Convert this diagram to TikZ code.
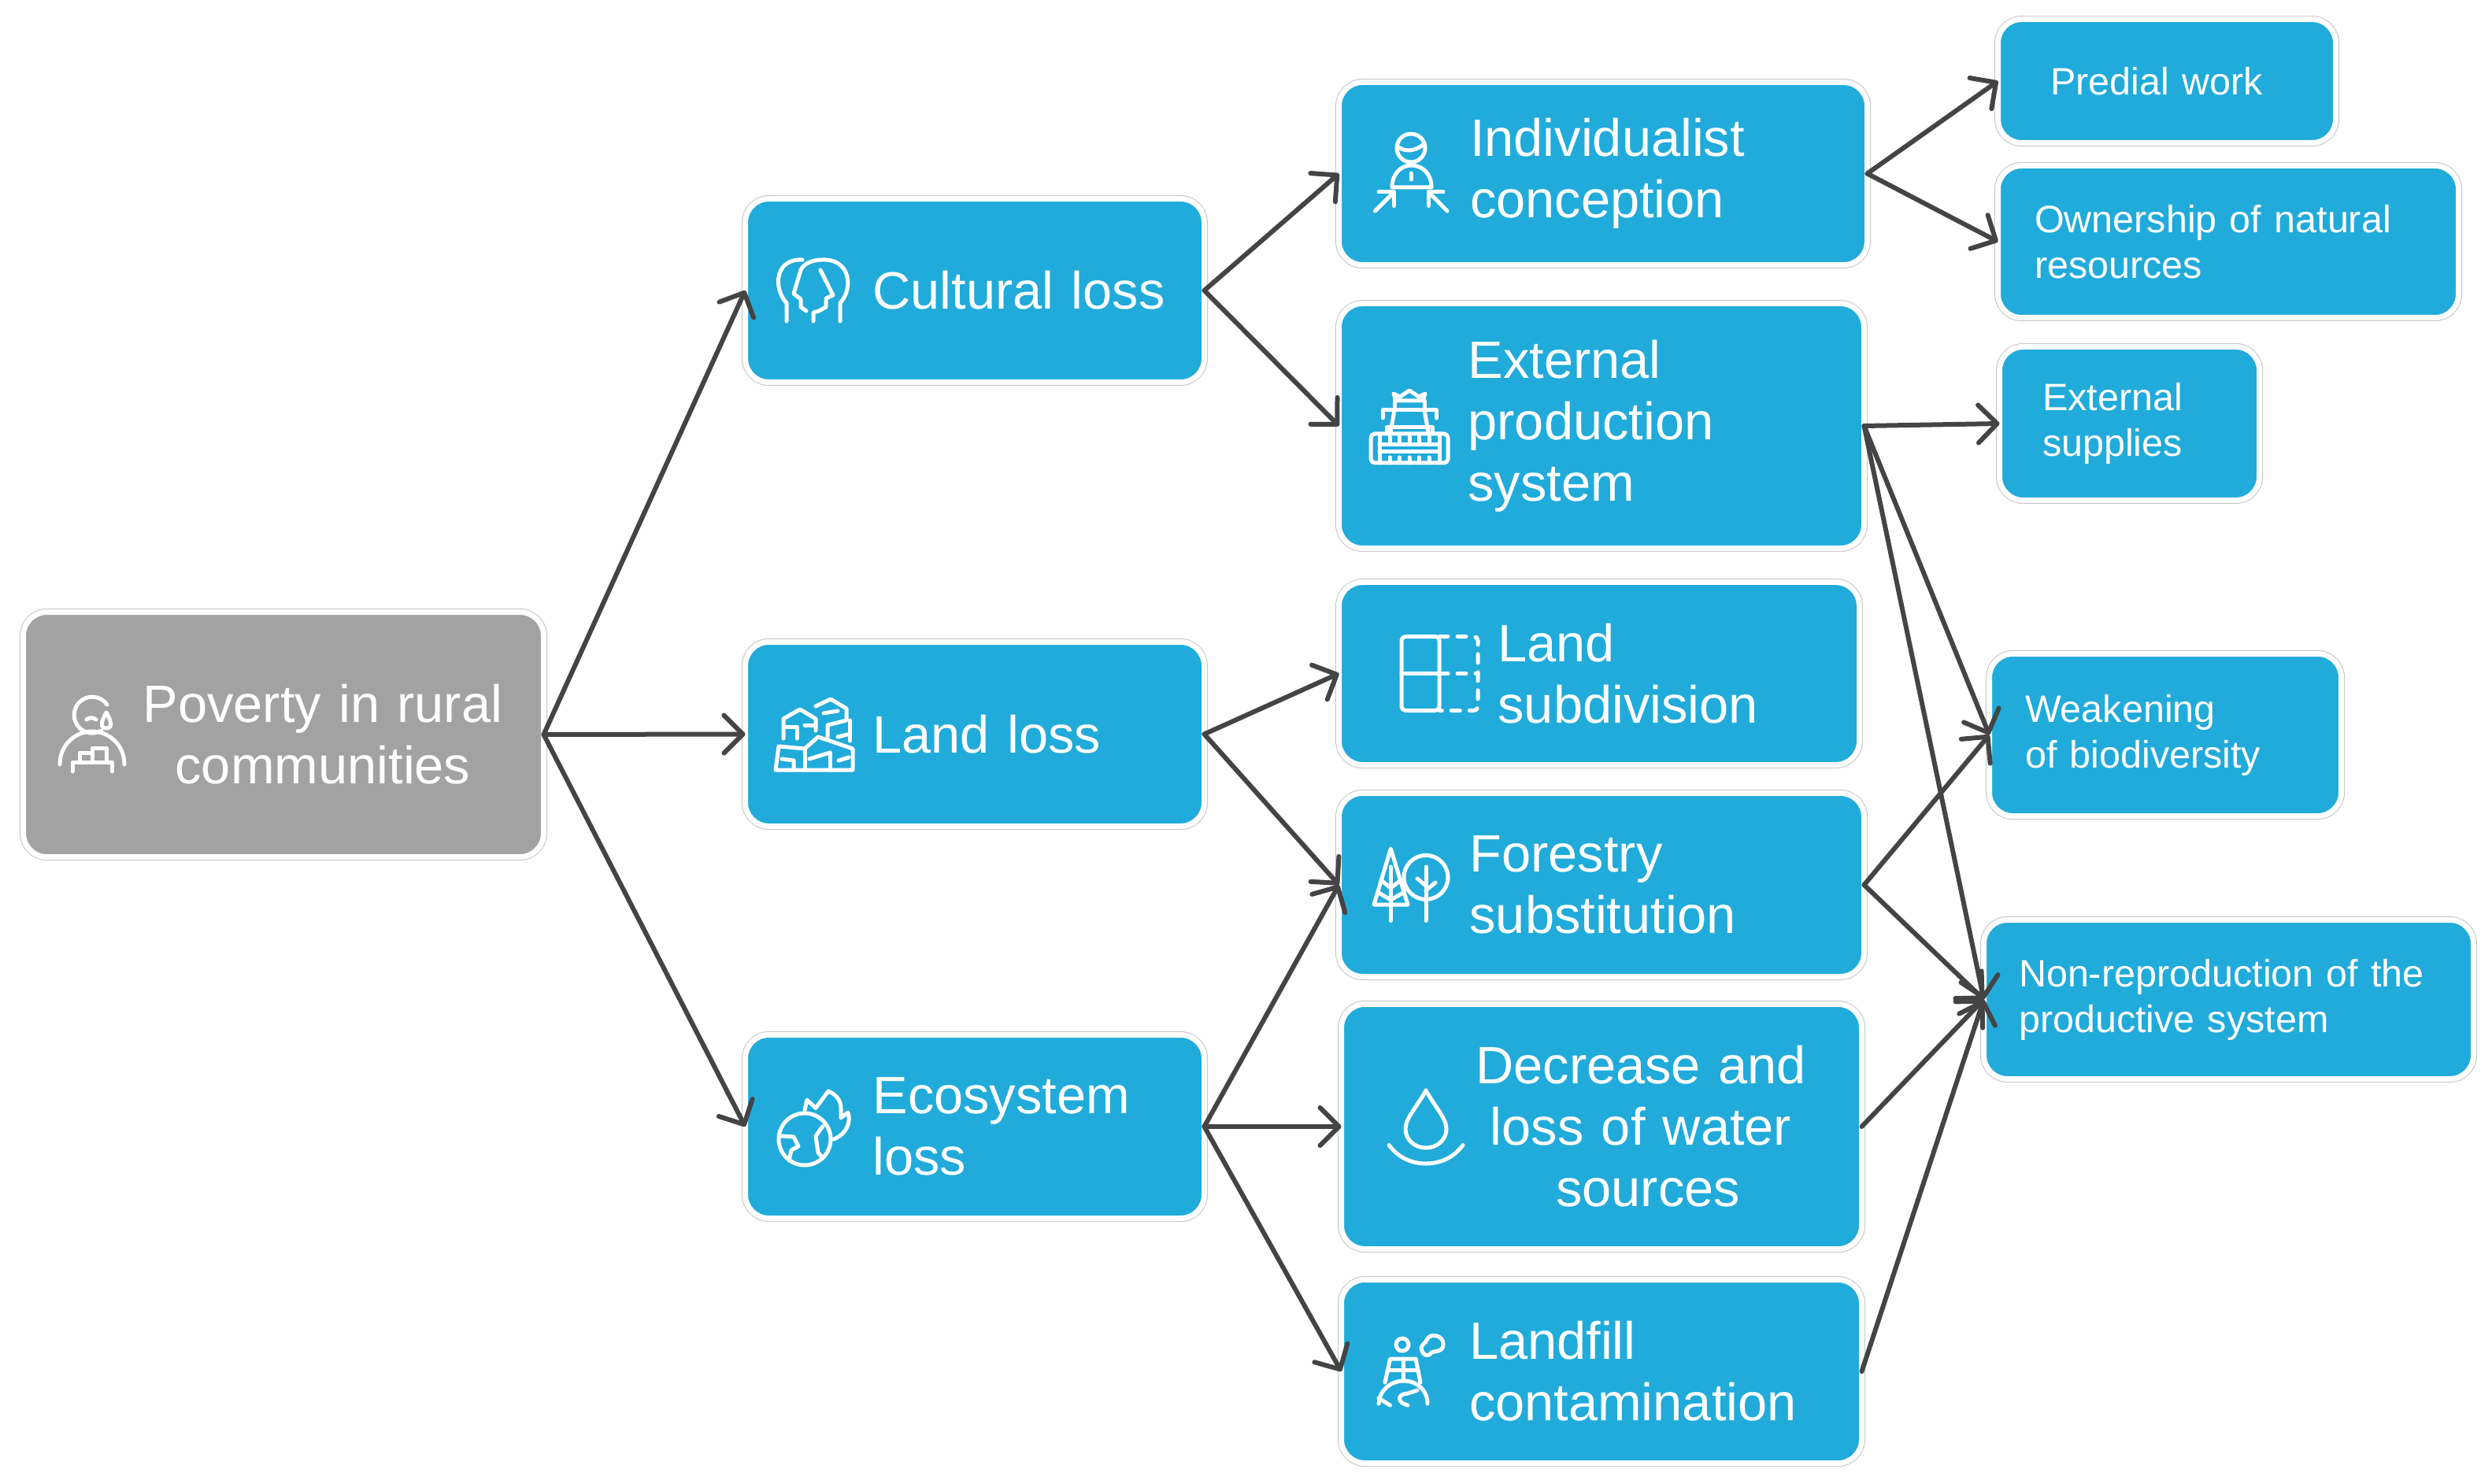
\documentclass[tikz,border=0pt]{standalone}
\usepackage{fontspec}
\setmainfont[WordSpace=0.72]{Liberation Sans}
\usetikzlibrary{arrows.meta}
\definecolor{riverblue}{HTML}{20ABDB}
\definecolor{stonegrey}{HTML}{A2A2A2}
\definecolor{edgegrey}{HTML}{C4C4C4}
\definecolor{arrowgrey}{HTML}{444444}
\tikzset{
    bluebox/.style={rounded corners=.3cm, preaction={draw=edgegrey, line width=.09cm},
        draw=white, line width=.07cm, fill=riverblue, inner sep=0pt, outer sep=0pt,
        text=white, align=left},
    greybox/.style={bluebox, fill=stonegrey},
    boxsize/.style 2 args={text width=#1, minimum height=#2},
    pad/.style={execute at begin node={\advance\leftskip #1\relax}},
    nudge/.style={execute at end node={\par\vskip #1\relax}},
    bigtext/.style={font=\fontsize{19}{22.2}\selectfont},
    smalltext/.style={font=\fontsize{13.8}{16.5}\selectfont},
    link/.style={draw=arrowgrey, line width=.06cm, line cap=round, line join=round,
        -{Straight Barb[length=.24cm,width=.48cm,round]}},
    icon/.style={draw=white, line width=.05cm, line cap=round, line join=round}
}

\begin{document}
\begin{tikzpicture}
    \useasboundingbox (0,0) rectangle (31.65,18.84);

    % Root box
    \node (poverty) [greybox, bigtext, align=center, boxsize={6.61cm}{3.11cm}, pad=1.00cm, nudge=.04cm] at (3.60,9.51) {Poverty in rural\\communities};

    % Losses
    \node (cultural) [bluebox, bigtext, boxsize={5.83cm}{2.33cm}, pad=1.62cm] at (12.38,15.15) {Cultural loss};
    \node (land) [bluebox, bigtext, boxsize={5.83cm}{2.34cm}, pad=1.62cm, nudge=.04cm] at (12.38,9.515) {Land loss};
    \node (ecosystem) [bluebox, bigtext, boxsize={5.83cm}{2.33cm}, pad=1.62cm] at (12.38,4.53) {Ecosystem\\loss};

    % Causes
    \node (individualist) [bluebox, bigtext, boxsize={6.71cm}{2.32cm}, pad=1.665cm, nudge=-.08cm] at (20.36,16.635) {Individualist\\conception};
    \node (production) [bluebox, bigtext, boxsize={6.67cm}{3.11cm}, pad=1.64cm, nudge=-.08cm] at (20.34,13.43) {External\\production\\system};
    \node (subdivision) [bluebox, bigtext, boxsize={6.61cm}{2.32cm}, pad=2.02cm, nudge=.08cm] at (20.31,10.285) {Land\\subdivision};
    \node (forestry) [bluebox, bigtext, boxsize={6.67cm}{2.33cm}, pad=1.66cm, nudge=.04cm] at (20.34,7.60) {Forestry\\substitution};
    \node (water) [bluebox, bigtext, align=center, boxsize={6.61cm}{3.11cm}, pad=1.00cm, nudge=.04cm] at (20.34,4.53) {Decrease and\\loss of water\\\hspace*{.18cm}sources};
    \node (landfill) [bluebox, bigtext, boxsize={6.61cm}{2.33cm}, pad=1.625cm, nudge=.04cm] at (20.34,1.42) {Landfill\\contamination};

    % Effects
    \node (predial) [bluebox, smalltext, boxsize={4.29cm}{1.57cm}, pad=.665cm] at (27.52,17.81) {Predial work};
    \node (ownership) [bluebox, smalltext, boxsize={5.85cm}{1.93cm}, pad=.465cm] at (28.30,15.77) {Ownership of natural\\resources};
    \node (supplies) [bluebox, smalltext, boxsize={3.30cm}{1.95cm}, pad=.545cm, nudge=-.04cm] at (27.045,13.46) {External\\supplies};
    \node (biodiversity) [bluebox, smalltext, boxsize={4.47cm}{2.06cm}, pad=.455cm, nudge=-.04cm] at (27.50,9.505) {Weakening\\of biodiversity};
    \node (reproduction) [bluebox, smalltext, boxsize={6.22cm}{2.02cm}, pad=.445cm, nudge=-.04cm] at (28.305,6.145) {Non-reproduction of the\\productive system};

    % Connectors
    \draw[link] (poverty.east) -- (cultural.west);
    \draw[link] (poverty.east) -- (land.west);
    \draw[link] (poverty.east) -- (ecosystem.west);
    \draw[link] (cultural.east) -- (individualist.west);
    \draw[link] (cultural.east) -- (production.west);
    \draw[link] (land.east) -- (subdivision.west);
    \draw[link] (land.east) -- (forestry.west);
    \draw[link] (ecosystem.east) -- (forestry.west);
    \draw[link] (ecosystem.east) -- (water.west);
    \draw[link] (ecosystem.east) -- (landfill.west);
    \draw[link] (individualist.east) -- (predial.west);
    \draw[link] (individualist.east) -- (ownership.west);
    \draw[link] (production.east) -- (supplies.west);
    \draw[link] (production.east) -- (biodiversity.west);
    \draw[link] (production.east) -- (reproduction.west);
    \draw[link] (forestry.east) -- (biodiversity.west);
    \draw[link] (forestry.east) -- (reproduction.west);
    \draw[link] (water.east) -- (reproduction.west);
    \draw[link] (landfill.east) -- (reproduction.west);

    % Person with tear
    \begin{scope}[shift={(1.17,9.51)}, icon]
        \draw (.19,.38) arc[start angle=35, end angle=300, radius=.23];
        \draw (-.07,.19) .. controls (-.03,.22) and (.01,.22) .. (.05,.19);
        \draw (.18,.28) .. controls (.11,.16) and (.10,.08) .. (.18,.08) .. controls (.26,.08) and (.25,.16) .. (.18,.28);
        \draw (-.41,-.38) .. controls (-.41,-.12) and (-.2,.04) .. (0,.04) .. controls (.2,.04) and (.41,-.12) .. (.41,-.38);
        \draw (-.25,-.47) -- (-.25,-.35) -- (.25,-.35) -- (.25,-.47);
        \draw (-.16,-.35) -- (-.16,-.23) -- (0,-.23) -- (0,-.35);
        \draw (0,-.23) -- (0,-.17) -- (.18,-.17) -- (.18,-.35);
    \end{scope}

    % Two heads
    \begin{scope}[shift={(10.33,15.14)}, icon]
        \draw (-.34,-.38) -- (-.34,-.15) .. controls (-.52,.05) and (-.48,.42) .. (-.14,.40);
        \draw (.34,-.38) -- (.34,-.15) .. controls (.52,.05) and (.46,.42) .. (.11,.40) .. controls (0,.40) and (-.12,.36) .. (-.16,.27) -- (-.25,-.03) -- (-.16,-.10) -- (-.16,-.20) -- (-.09,-.25);
        \draw (.09,.27) -- (.25,-.05) -- (.16,-.09) -- (.16,-.2) -- (.07,-.25) -- (0,-.27) -- (0,-.38);
    \end{scope}

    % Houses
    \begin{scope}[shift={(10.34,9.51)}, icon]
        \draw (-.49,-.45) -- (.49,-.45) -- (.49,-.18) -- (.05,-.03) -- (-.12,-.18) -- (-.45,-.15) -- cycle;
        \draw (-.12,-.18) -- (-.12,-.45);
        \draw (.2,-.23) -- (.2,-.45);
        \draw (-.06,-.31) -- (.2,-.23);
        \draw (.31,-.33) -- (.44,-.29);
        \draw (-.41,-.31) -- (-.26,-.33) -- (-.26,-.43);
        \draw (-.39,-.05) -- (-.39,.2) -- (-.18,.32) -- (.02,.2) -- (.02,.05);
        \draw (-.35,.1) -- (-.22,.1) -- (-.22,-.05);
        \draw (-.12,.12) -- (.02,.12);
        \draw (.02,.36) -- (.21,.45) -- (.41,.33) -- (.41,.18) -- (.17,.12) -- (.17,-.03);
        \draw (.455,.18) -- (.455,-.08);
        \draw (.12,.27) -- (.3,.3);
        \draw (.3,-.03) -- (.42,0);
    \end{scope}

    % Earth and flame
    \begin{scope}[shift={(10.34,4.52)}, icon]
        \draw (-.12,-.15) circle[radius=.33];
        \draw (-.41,-.11) -- (-.26,-.12) -- (-.2,-.24) -- (-.29,-.29) -- (-.32,-.42);
        \draw (.11,.015) -- (.02,-.11) -- (.05,-.32) -- (.11,-.39);
        \draw (-.12,.22) -- (-.09,.35) -- (.02,.245) -- (.18,.46) .. controls (.28,.42) and (.34,.34) .. (.34,.245) -- (.34,.12) -- (.43,.19) .. controls (.47,.08) and (.42,-.08) .. (.25,-.15);
    \end{scope}

    % Person and arrows
    \begin{scope}[shift={(17.92,16.64)}, icon]
        \draw (0,.32) circle[radius=.18];
        \draw (-.17,.34) .. controls (-.08,.26) and (.08,.28) .. (.17,.38);
        \draw (-.24,-.18) .. controls (-.24,0) and (-.12,.10) .. (0,.10) .. controls (.14,.10) and (.26,0) .. (.26,-.18) -- cycle;
        \draw (0,0) -- (0,-.08);
        \draw (-.455,-.48) -- (-.215,-.24);
        \draw (-.41,-.24) -- (-.215,-.24) -- (-.215,-.415);
        \draw (.46,-.48) -- (.225,-.24);
        \draw (.41,-.24) -- (.225,-.24) -- (.225,-.415);
    \end{scope}

    % Harvester
    \begin{scope}[shift={(17.90,13.43)}, icon]
        \draw (-.17,.32) -- (-.2,.41) -- (-.12,.37) -- (0,.45) -- (.12,.37) -- (.2,.41) -- (.17,.32) -- cycle;
        \draw (-.19,.32) -- (-.19,.2) -- (.19,.2) -- (.19,.32);
        \draw (-.19,.2) -- (-.24,-.08);
        \draw (.19,.2) -- (.24,-.08);
        \draw (-.34,.1) -- (-.34,.2) -- (.34,.2) -- (.34,.1);
        \draw (-.29,-.1) -- (-.29,-.02) -- (.29,-.02) -- (.29,-.1);
        \draw[rounded corners=.05cm] (-.49,-.47) rectangle (.49,-.10);
        \draw (-.38,-.10) -- (-.38,-.47);
        \draw (.38,-.10) -- (.38,-.47);
        \draw (-.38,-.24) -- (.38,-.24);
        \draw (-.38,-.33) -- (.38,-.33);
        \foreach \dx in {-.25,-.125,0,.125,.25} {
            \draw (\dx,-.14) -- (\dx,-.2);
            \draw (\dx,-.4) -- (\dx,-.47);
        }
    \end{scope}

    % Plot with dashed half
    \begin{scope}[shift={(18.28,10.285)}, icon]
        \draw[rounded corners=.05cm] (0,.47) -- (-.48,.47) -- (-.48,-.47) -- (0,-.47) -- cycle;
        \draw (-.48,0) -- (0,0);
        \draw[dash pattern=on .11cm off .12cm, rounded corners=.05cm] (0,.47) -- (.49,.47) -- (.49,-.47) -- (0,-.47);
        \draw[dash pattern=on .11cm off .12cm] (0,0) -- (.49,0);
    \end{scope}

    % Trees
    \begin{scope}[shift={(17.91,7.63)}, icon]
        \draw (-.247,.43) -- (-.46,-.28) -- (-.03,-.28) -- cycle;
        \draw (-.247,.20) -- (-.247,-.485);
        \draw (-.37,.03) -- (-.247,-.07) -- (-.12,.03);
        \draw (-.40,-.13) -- (-.247,-.22) -- (-.09,-.13);
        \draw (.20,.066) circle[radius=.28];
        \draw (.20,.20) -- (.20,-.485);
        \draw (.09,.05) -- (.20,-.04);
        \draw (.32,0) -- (.20,-.1);
    \end{scope}

    % Water drop
    \begin{scope}[shift={(18.11,4.52)}, icon]
        \draw (0,.47) .. controls (-.1,.28) and (-.26,.12) .. (-.26,-.02) .. controls (-.26,-.16) and (-.14,-.26) .. (0,-.26) .. controls (.14,-.26) and (.26,-.16) .. (.26,-.02) .. controls (.26,.12) and (.1,.28) .. (0,.47);
        \draw (-.47,-.225) .. controls (-.34,-.4) and (-.16,-.46) .. (0,-.46) .. controls (.16,-.46) and (.34,-.4) .. (.47,-.225);
    \end{scope}

    % Landfill with smoke
    \begin{scope}[shift={(17.88,1.44)}, icon]
        \draw (-.07,.32) circle[radius=.08];
        \draw (.18,.24) .. controls (.14,.32) and (.24,.34) .. (.24,.38) .. controls (.28,.48) and (.46,.44) .. (.45,.32) .. controls (.45,.22) and (.32,.24) .. (.3,.22) .. controls (.26,.16) and (.2,.18) .. (.18,.24);
        \draw (-.29,-.16) -- (-.225,.14) -- (.10,.14) -- (.16,-.16);
        \draw (-.06,.14) -- (-.06,-.12);
        \draw (-.26,0) -- (.13,0);
        \draw (-.37,-.43) .. controls (-.36,-.26) and (-.22,-.14) .. (-.05,-.14) .. controls (.12,-.14) and (.25,-.26) .. (.25,-.43);
        \draw (-.37,-.36) -- (-.225,-.45);
        \draw (0,-.45) .. controls (-.14,-.42) and (-.14,-.3) .. (0,-.30) -- (.12,-.26);
    \end{scope}

\end{tikzpicture}
\end{document}
